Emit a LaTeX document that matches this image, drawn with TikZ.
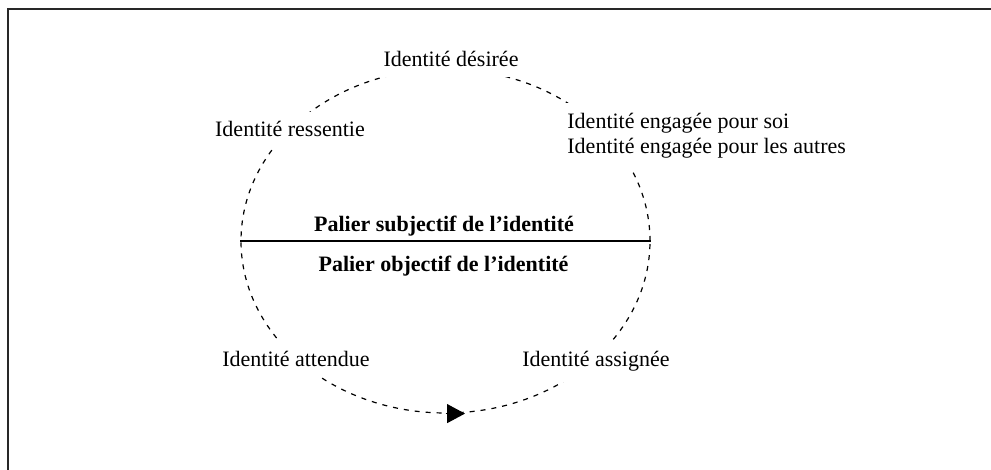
\documentclass[tikz,border=0pt]{standalone}
\usepackage{fontspec}
\setmainfont{Liberation Serif}
\usetikzlibrary{shapes.geometric, arrows.meta}
\definecolor{framecolor}{RGB}{40,40,40}

\begin{document}
\begin{tikzpicture}[
    x=0.5pt, y=0.5pt,
    font=\fontsize{11}{12.25}\selectfont,
    cycleline/.style={draw, dash pattern=on 2.5pt off 3pt, line width=0.6pt},
    level/.style={font=\fontsize{11}{12.25}\selectfont\bfseries, anchor=base},
    stage/.style={fill=white, inner xsep=2pt, inner ysep=5pt, anchor=base},
    arrow/.style={-{Triangle[length=9pt, width=9.5pt]}, line width=0.6pt}
]
    \useasboundingbox (0,0) rectangle (991,470);

    % Frame
    \draw[line width=1pt, framecolor] (8,0) -- (8,461) -- (991,461);

    % Cycle
    \node[ellipse, cycleline, minimum width=204.5pt, minimum height=172pt, inner sep=0pt] (cycle) at (445.5,229) {};

    % Levels
    \draw[line width=1.4pt] (cycle.west) -- (cycle.east);
    \node[level] (subj) at (444,238) {Palier subjectif de l’identité};
    \node[level] (obj) at (443.5,198) {Palier objectif de l’identité};

    % Stages
    \node[stage] (desiree) at (451,403) {Identité désirée};
    \node[stage] (ressentie) at (290,333) {Identité ressentie};
    \node[stage, anchor=north west, align=left] (engagee) at (563,367) {Identité engagée pour soi\\Identité engagée pour les autres};
    \node[stage] (attendue) at (296,103) {Identité attendue};
    \node[stage] (assignee) at (596,103) {Identité assignée};

    % Direction
    \draw[arrow] (cycle.south) -- ++(19.5,0);
\end{tikzpicture}
\end{document}
